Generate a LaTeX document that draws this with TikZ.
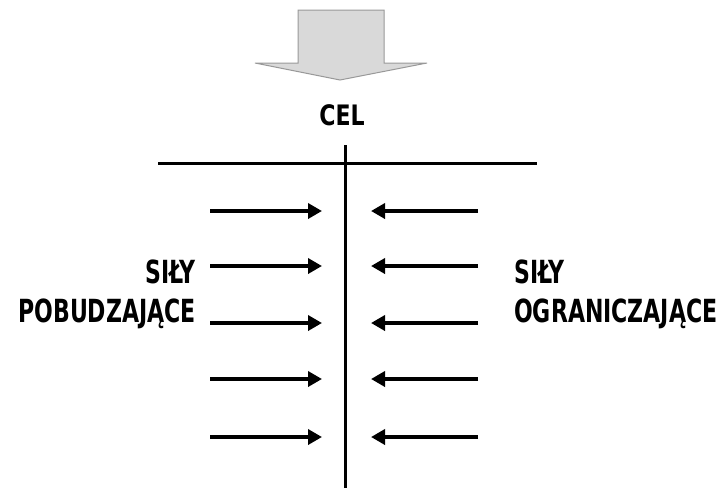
\documentclass[tikz,border=0pt]{standalone}
\usepackage{fontspec}
\setmainfont{DejaVu Sans Condensed}[BoldFont={DejaVu Sans Condensed Bold}]
\usetikzlibrary{calc,positioning,arrows.meta}
\newcommand\tallcap[2]{\scalebox{1}[#1]{#2}}

\begin{document}
\begin{tikzpicture}[x=1pt,y=-1pt,
  force/.style={line width=4pt,-{Triangle[length=14pt,width=15pt]}},
  caption/.style={font=\bfseries\fontsize{24.5}{30}\selectfont,inner sep=0pt}]
 \useasboundingbox (0,0) rectangle (720,488);
 \coordinate (origo) at (345,163);

    % draw big arrow
    \filldraw[fill=gray!30,draw=gray!80,line width=1pt]
      (298,10) -- (384,10) -- (384,63) -- (427,63) -- (340,80)
      -- (255,63) -- (298,63) -- cycle;
    \node[caption,anchor=base] (cel) at (342,125) {\tallcap{1.15}{CEL}};

    % draw axes
    \draw[line width=3pt] (158,163) -- (537,163);
    \draw[line width=3pt] (345,145) -- (345,488);

    % draw forces
    \foreach \y [count=\i] in {211,266,323,379,437} {
      \coordinate (l\i) at (210,\y);
      \coordinate (r\i) at (478,\y);
      \draw[force] (l\i) -- (322,\y);
      \draw[force] (r\i) -- (371,\y);
    }

    % labels
    \node[caption,anchor=base east] (pob1) at (196,283) {\tallcap{1.3}{SIŁY}};
    \node[caption,anchor=base east] (pob2) at (196,322) {\tallcap{1.3}{POBUDZAJĄCE}};
    \node[caption,anchor=base west] (ogr1) at (514,283) {\tallcap{1.3}{SIŁY}};
    \node[caption,anchor=base west] (ogr2) at (514,322) {\tallcap{1.3}{OGRANICZAJĄCE}};

\end{tikzpicture}
\end{document}
